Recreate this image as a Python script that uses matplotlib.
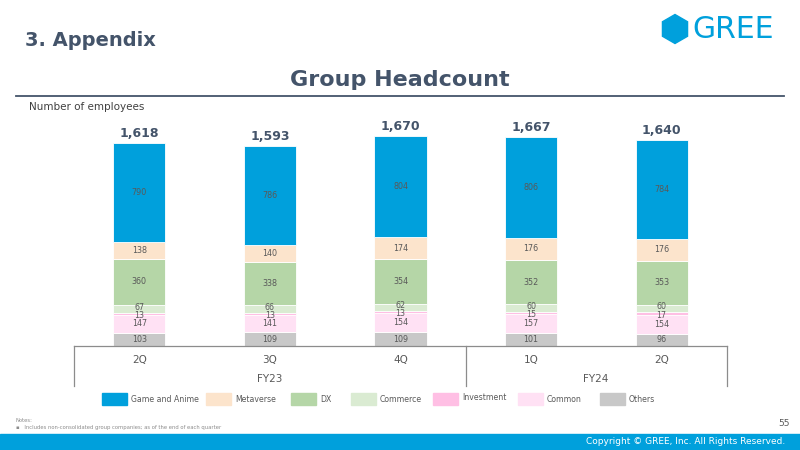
#!/usr/bin/env python3
from matplotlib import pyplot as plt
from matplotlib.patches import Rectangle, RegularPolygon
import numpy as np

quarters = ['2Q', '3Q', '4Q', '1Q', '2Q']
years = ['FY23', 'FY24']
segments = ['Game and Anime', 'Metaverse', 'DX', 'Commerce',
            'Investment', 'Common', 'Others']
colors = ['#00A0DC', '#FCE4CC', '#B5D6A7', '#DAEBD2',
          '#FFBFE4', '#FFE1F4', '#C8C8C8']

game = [790, 786, 804, 806, 784]
metaverse = [138, 140, 174, 176, 176]
dx = [360, 338, 354, 352, 353]
commerce = [67, 66, 62, 60, 60]
investment = [13, 13, 13, 15, 17]
common = [147, 141, 154, 157, 154]
others = [103, 109, 109, 101, 96]

DARK = '#44546A'
GREY = '#595959'
W, H = 800.0, 450.0


def fx(px):
    return px / W


def fy(py):
    return 1 - py / H


def main():
    fig = plt.figure(figsize=(8, 4.5), dpi=100)

    # header
    fig.text(fx(25), fy(41), '3. Appendix', fontsize=14, fontweight='bold',
             color=DARK, va='center', ha='left')
    fig.text(fx(400), fy(80), 'Group Headcount', fontsize=16,
             fontweight='bold', color=DARK, va='center', ha='center')
    fig.add_artist(plt.Line2D([fx(16), fx(784)], [fy(96), fy(96)],
                              color=DARK, lw=1.3))
    fig.text(fx(29), fy(107), 'Number of employees', fontsize=7.5,
             color='#404040', va='center', ha='left')

    # logo
    fig.add_artist(RegularPolygon((6.75, (H - 29) / 100), 6, radius=0.145,
                                  orientation=0, color='#00A0DC',
                                  transform=fig.dpi_scale_trans))
    fig.text(fx(692), fy(29), 'GREE', fontsize=21.5, color='#00A0DC',
             va='center', ha='left')

    # chart
    ax = fig.add_axes([fx(74), fy(346), fx(727) - fx(74), (346 - 100) / H])
    x = np.arange(len(quarters))
    stack = [others, common, investment, commerce, dx, metaverse, game]
    stack_colors = colors[::-1]
    # small nudges so the thin segments' labels don't sit on each other
    nudge = [0, 0, -14, 14, 0, 0, 0]
    bottom = np.zeros(len(quarters))
    for vals, col, dy in zip(stack, stack_colors, nudge):
        vals = np.array(vals)
        ax.bar(x, vals, 0.4, bottom=bottom, color=col,
               edgecolor='white', linewidth=0.6)
        for xi, b, v in zip(x, bottom, vals):
            ax.text(xi, b + v / 2 + dy, str(v), ha='center', va='center',
                    fontsize=5.8, color=GREY)
        bottom += vals
    for xi, t in zip(x, bottom):
        ax.text(xi, t + 25, '{:,}'.format(int(t)), ha='center',
                va='bottom', fontsize=9, fontweight='bold', color=DARK)
    ax.set_xlim(-0.5, 4.5)
    ax.set_ylim(0, 1960)
    ax.axis('off')

    # category box
    line_col = '#8C8C8C'
    fig.add_artist(plt.Line2D([fx(74), fx(727)], [fy(346), fy(346)],
                              color=line_col, lw=0.9))
    for px in (74, 466, 727):
        fig.add_artist(plt.Line2D([fx(px), fx(px)], [fy(346), fy(386)],
                                  color=line_col, lw=0.9))
    for xi, q in zip(x, quarters):
        px = 74 + (xi + 0.5) * 130.6
        fig.text(fx(px), fy(360), q, fontsize=7.5, color=GREY,
                 ha='center', va='center')
    fig.text(fx(270), fy(379), years[0], fontsize=7.5, color=GREY,
             ha='center', va='center')
    fig.text(fx(596), fy(379), years[1], fontsize=7.5, color=GREY,
             ha='center', va='center')

    # legend
    patch_x = [102, 206, 291, 351, 433, 518, 600]
    for px, name, col in zip(patch_x, segments, colors):
        fig.add_artist(Rectangle((fx(px), fy(405)), fx(25), 12 / H,
                                 color=col))
        ty = 398 if name == 'Investment' else 400
        fig.text(fx(px + 29), fy(ty), name, fontsize=5.6, color=GREY,
                 ha='left', va='center')

    # notes
    fig.text(fx(16), fy(421), 'Notes:', fontsize=3.8, color='#8C8C8C',
             ha='left', va='center')
    fig.text(fx(16), fy(427),
             '\u25aa   Includes non-consolidated group companies; '
             'as of the end of each quarter',
             fontsize=3.8, color='#8C8C8C', ha='left', va='center')
    fig.text(fx(790), fy(424), '55', fontsize=6.5, color=GREY,
             ha='right', va='center')

    # footer
    fig.add_artist(Rectangle((0, 0), 1, 16 / H, color='#00A0DC'))
    fig.text(fx(785), fy(442), 'Copyright \u00a9 GREE, Inc. All Rights Reserved.',
             fontsize=6.5, color='white', ha='right', va='center')

    fig.savefig('out.png', dpi=100)


if __name__ == "__main__":
    main()
